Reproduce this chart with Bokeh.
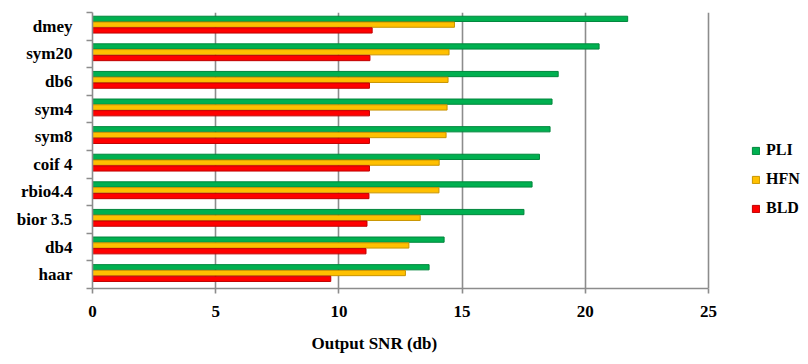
from bokeh.plotting import figure
from bokeh.models import FixedTicker, Legend, LegendItem, Title
from bokeh.embed import file_html
from bokeh.resources import INLINE

wavelets = ["haar", "db4", "bior 3.5", "rbio4.4", "coif 4", "sym8", "sym4", "db6", "sym20", "dmey"]
pli = [13.66, 14.27, 17.51, 17.84, 18.14, 18.57, 18.65, 18.90, 20.56, 21.72]
hfn = [12.70, 12.84, 13.30, 14.06, 14.07, 14.35, 14.39, 14.43, 14.47, 14.69]
bld = [9.67, 11.10, 11.14, 11.22, 11.24, 11.24, 11.24, 11.24, 11.26, 11.35]
x_ticks = [0, 5, 10, 15, 20, 25]

FONT = "Liberation Serif"

# frame spans 92..808 px; the axis itself is bounded to 0..25
X_END = 25 * (808 - 92) / (708 - 92)

p = figure(width=808, height=364, x_range=(0, X_END), y_range=(0, len(wavelets)),
           output_backend="svg", toolbar_location=None,
           min_border_left=92, min_border_right=0, min_border_top=12, min_border_bottom=74)
p.outline_line_color = None
p.background_fill_color = "white"

centers = [i + 0.5 for i in range(len(wavelets))]
series = [("PLI", pli, 0.27, "#00B050", "#00863C"),
          ("HFN", hfn, 0.06, "#FFC000", "#C89400"),
          ("BLD", bld, -0.15, "#FF0000", "#C00000")]
renderers = {}
for name, vals, off, fill, edge in series:
    ys = [c + off for c in centers]
    r = p.hbar(y=ys, right=vals, left=0, height=0.19, fill_color=fill,
               line_color=edge, line_width=1)
    renderers[name] = r

# grid
p.ygrid.grid_line_color = None
p.xgrid.grid_line_color = "#8C8C8C"
p.xgrid.grid_line_width = 1.6
p.xgrid.ticker = FixedTicker(ticks=x_ticks[1:])

# x axis
xa = p.xaxis[0]
xa.ticker = FixedTicker(ticks=x_ticks)
xa.bounds = (0, 25)
xa.axis_line_color = "#8C8C8C"
xa.axis_line_width = 1.6
xa.major_tick_line_color = "#8C8C8C"
xa.major_tick_line_width = 1.6
xa.major_tick_in = 0
xa.major_tick_out = 5
xa.minor_tick_line_color = None
xa.major_label_standoff = 12
xa.major_label_text_font = FONT
xa.major_label_text_font_style = "bold"
xa.major_label_text_font_size = "17px"
xa.major_label_text_color = "black"

# y axis: labels at centers, ticks at boundaries
ya = p.yaxis[0]
ya.ticker = FixedTicker(ticks=centers, minor_ticks=list(range(len(wavelets) + 1)))
ya.major_label_overrides = {c: w for c, w in zip(centers, wavelets)}
ya.axis_line_color = "#8C8C8C"
ya.axis_line_width = 1.6
ya.major_tick_line_color = None
ya.major_tick_in = 0
ya.major_tick_out = 6
ya.minor_tick_line_color = "#8C8C8C"
ya.minor_tick_line_width = 1.6
ya.minor_tick_in = 0
ya.minor_tick_out = 6
ya.major_label_standoff = 14
ya.major_label_text_font = FONT
ya.major_label_text_font_style = "bold"
ya.major_label_text_font_size = "17px"
ya.major_label_text_color = "black"

# axis title
t = Title(text="Output SNR (db)", align="left", offset=219, standoff=24,
          text_font=FONT, text_font_style="bold", text_font_size="17px",
          text_color="black")
p.add_layout(t, "below")

legend = Legend(items=[LegendItem(label=n, renderers=[renderers[n]]) for n in ["PLI", "HFN", "BLD"]],
                location=(659, 70), orientation="vertical",
                glyph_width=9, glyph_height=9, label_height=20, spacing=9,
                padding=0, margin=0, border_line_color=None, background_fill_alpha=0,
                label_text_font=FONT, label_text_font_style="bold",
                label_text_font_size="16px", label_text_color="black",
                label_standoff=6)
p.add_layout(legend, "center")

open("out.html", "w").write(file_html(p, INLINE))
